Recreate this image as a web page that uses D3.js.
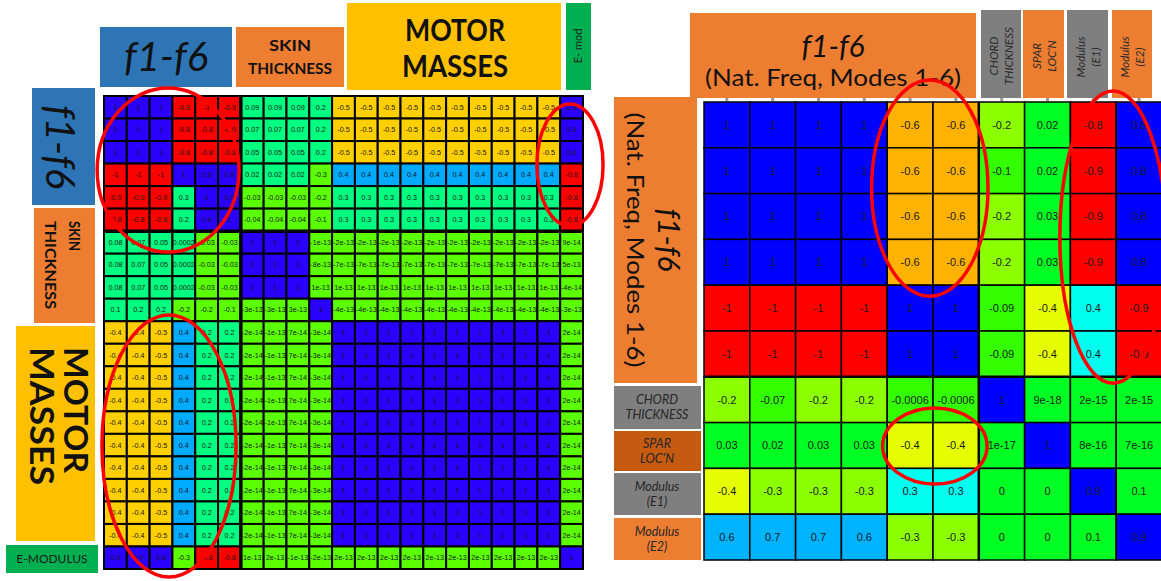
<!DOCTYPE html>
<html>
<head>
<meta charset="utf-8">
<script src="https://cdn.jsdelivr.net/npm/d3@7"></script>
<style>
  html, body { margin: 0; padding: 0; background: #ffffff; }
  svg { display: block; }
</style>
</head>
<body>
<svg id="chart" width="1161" height="581"></svg>
<script>
// ---------- Left matrix: correlation of f1-f6 with skin thickness, motor masses, E-modulus ----------
const leftParams = ["f1", "f2", "f3", "f4", "f5", "f6",
  "t1", "t2", "t3", "t4",
  "m1", "m2", "m3", "m4", "m5", "m6", "m7", "m8", "m9", "m10",
  "E"];

const leftValues = [
  [1, 1, 1, -0.8, -1, -0.9, 0.09, 0.09, 0.09, 0.2, -0.5, -0.5, -0.5, -0.5, -0.5, -0.5, -0.5, -0.5, -0.5, -0.5, 0.9],
  [1, 1, 1, -0.8, -0.8, -0.9, 0.07, 0.07, 0.07, 0.2, -0.5, -0.5, -0.5, -0.5, -0.5, -0.5, -0.5, -0.5, -0.5, -0.5, 0.9],
  [1, 1, 1, -0.8, -0.8, -0.8, 0.05, 0.05, 0.05, 0.2, -0.5, -0.5, -0.5, -0.5, -0.5, -0.5, -0.5, -0.5, -0.5, -0.5, 0.8],
  [-1, -1, -1, 1, 0.8, 0.8, 0.02, 0.02, 0.02, -0.3, 0.4, 0.4, 0.4, 0.4, 0.4, 0.4, 0.4, 0.4, 0.4, 0.4, -0.8],
  [-0.9, -0.9, -0.9, 0.3, 1, 0.9, -0.03, -0.03, -0.03, -0.2, 0.3, 0.3, 0.3, 0.3, 0.3, 0.3, 0.3, 0.3, 0.3, 0.3, -0.8],
  [-0.8, -0.8, -0.8, 0.2, 0.8, 1, -0.04, -0.04, -0.04, -0.1, 0.3, 0.3, 0.3, 0.3, 0.3, 0.3, 0.3, 0.3, 0.3, 0.3, -0.8],
  [0.08, 0.07, 0.05, 0.0002, -0.03, -0.03, 1, 1, 1, -1e-13, -2e-13, -2e-13, -2e-13, -2e-13, -2e-13, -2e-13, -2e-13, -2e-13, -2e-13, -2e-13, 9e-14],
  [0.08, 0.07, 0.05, 0.0002, -0.03, -0.03, 1, 1, 1, -8e-13, -7e-13, -7e-13, -7e-13, -7e-13, -7e-13, -7e-13, -7e-13, -7e-13, -7e-13, -7e-13, 5e-13],
  [0.08, 0.07, 0.05, 0.0002, -0.03, -0.03, 1, 1, 1, 1e-13, 1e-13, 1e-13, 1e-13, 1e-13, 1e-13, 1e-13, 1e-13, 1e-13, 1e-13, 1e-13, -4e-14],
  [0.1, 0.2, 0.2, -0.2, -0.2, -0.1, -3e-13, -3e-13, 3e-13, 1, -4e-13, -4e-13, -4e-13, -4e-13, -4e-13, -4e-13, -4e-13, -4e-13, -4e-13, -4e-13, -3e-13],
  [-0.4, -0.4, -0.5, 0.4, 0.2, 0.2, -2e-14, -1e-13, 7e-14, -3e-14, 1, 1, 1, 1, 1, 1, 1, 1, 1, 1, 2e-14],
  [-0.4, -0.4, -0.5, 0.4, 0.2, 0.2, -2e-14, -1e-13, 7e-14, -3e-14, 1, 1, 1, 1, 1, 1, 1, 1, 1, 1, 2e-14],
  [-0.4, -0.4, -0.5, 0.4, 0.2, 0.2, -2e-14, -1e-13, 7e-14, -3e-14, 1, 1, 1, 1, 1, 1, 1, 1, 1, 1, 2e-14],
  [-0.4, -0.4, -0.5, 0.4, 0.2, 0.2, -2e-14, -1e-13, 7e-14, -3e-14, 1, 1, 1, 1, 1, 1, 1, 1, 1, 1, 2e-14],
  [-0.4, -0.4, -0.5, 0.4, 0.2, 0.2, -2e-14, -1e-13, 7e-14, -3e-14, 1, 1, 1, 1, 1, 1, 1, 1, 1, 1, 2e-14],
  [-0.4, -0.4, -0.5, 0.4, 0.2, 0.2, -2e-14, -1e-13, 7e-14, -3e-14, 1, 1, 1, 1, 1, 1, 1, 1, 1, 1, 2e-14],
  [-0.4, -0.4, -0.5, 0.4, 0.2, 0.2, -2e-14, -1e-13, 7e-14, -3e-14, 1, 1, 1, 1, 1, 1, 1, 1, 1, 1, 2e-14],
  [-0.4, -0.4, -0.5, 0.4, 0.2, 0.2, -2e-14, -1e-13, 7e-14, -3e-14, 1, 1, 1, 1, 1, 1, 1, 1, 1, 1, 2e-14],
  [-0.4, -0.4, -0.5, 0.4, 0.2, 0.2, -2e-14, -1e-13, 7e-14, -3e-14, 1, 1, 1, 1, 1, 1, 1, 1, 1, 1, 2e-14],
  [-0.4, -0.4, -0.5, 0.4, 0.2, 0.2, -2e-14, -1e-13, 7e-14, -3e-14, 1, 1, 1, 1, 1, 1, 1, 1, 1, 1, 2e-14],
  [0.9, 0.9, 0.8, -0.3, -0.8, -0.8, 1e-13, 2e-13, -1e-13, -2e-13, 2e-13, 2e-13, 2e-13, 2e-13, 2e-13, 2e-13, 2e-13, 2e-13, 2e-13, 2e-13, 1]
];

// ---------- Right matrix: f1-f6 vs chord thickness, spar location, moduli ----------
const rightParams = ["f1", "f2", "f3", "f4", "f5", "f6", "chord", "spar", "E1", "E2"];

const rightValues = [
  [1, 1, 1, 1, -0.6, -0.6, -0.2, 0.02, -0.8, 0.8],
  [1, 1, 1, 1, -0.6, -0.6, -0.1, 0.02, -0.9, 0.8],
  [1, 1, 1, 1, -0.6, -0.6, -0.2, 0.03, -0.9, 0.8],
  [1, 1, 1, 1, -0.6, -0.6, -0.2, 0.03, -0.9, 0.8],
  [-1, -1, -1, -1, 1, 1, -0.09, -0.4, 0.4, -0.9],
  [-1, -1, -1, -1, 1, 1, -0.09, -0.4, 0.4, -0.9],
  [-0.2, -0.07, -0.2, -0.2, -0.0006, -0.0006, 1, 9e-18, 2e-15, 2e-15],
  [0.03, 0.02, 0.03, 0.03, -0.4, -0.4, 1e-17, 1, 8e-16, 7e-16],
  [-0.4, -0.3, -0.3, -0.3, 0.3, 0.3, 0, 0, 0.9, 0.1],
  [0.6, 0.7, 0.7, 0.6, -0.3, -0.3, 0, 0, 0.1, 0.9]
];

// Header texts ("|" starts a new line)
const leftColHeaders = ["f1-f6", "SKIN|THICKNESS", "MOTOR|MASSES", "E- mod"];
const leftRowHeaders = ["f1-f6", "SKIN|THICKNESS", "MOTOR|MASSES", "E-MODULUS"];
const freqTitle = "f1-f6";
const freqSubtitle = "(Nat. Freq, Modes 1-6)";
const rightColHeaders = ["CHORD|THICKNESS", "SPAR|LOC\u2019N", "Modulus|(E1)", "Modulus|(E2)"];
const rightRowHeaders = ["CHORD|THICKNESS", "SPAR|LOC\u2019N", "Modulus|(E1)", "Modulus|(E2)"];

// ---------- drawing ----------
const svg = d3.select("#chart");
const HEAD_FONT = "Lato, 'Open Sans', sans-serif";
const NUM_FONT = "'Liberation Sans', Arial, sans-serif";

const lx = d3.scaleBand().domain(d3.range(leftParams.length)).range([104, 583]);
const ly = d3.scaleBand().domain(d3.range(leftParams.length)).range([96, 569]);
const rx = d3.scaleBand().domain(d3.range(rightParams.length)).range([704, 1162]);
const ry = d3.scaleBand().domain(d3.range(rightParams.length)).range([102, 560]);

const leftColor = d3.scaleThreshold()
  .domain([-0.6, -0.35, 1e-6, 0.35, 0.6])
  .range(["#ff0000", "#ffd000", "#5cff00", "#00ff80", "#00aaff", "#2a00ff"]);

const rightColor = d3.scaleThreshold()
  .domain([-0.7, -0.5, -0.35, -0.15, 0, 0.15, 0.5, 0.75])
  .range(["#ff0000", "#ffb300", "#e6ff00", "#8cff00", "#33ff00", "#00ff22", "#00ffee", "#00b3ff", "#0000ff"]);

function drawMatrix(g, values, x, y, color, fmt, o) {
  const cells = values.flatMap((row, i) => row.map((v, j) => ({ i, j, v })));
  g.selectAll("rect.cell").data(cells).join("rect")
    .attr("class", "cell")
    .attr("x", d => x(d.j)).attr("y", d => y(d.i))
    .attr("width", x.bandwidth()).attr("height", y.bandwidth())
    .attr("fill", d => color(d.v))
    .attr("stroke", "#000").attr("stroke-width", o.grid);
  g.selectAll("text.val").data(cells).join("text")
    .attr("class", "val")
    .attr("x", d => x(d.j) + x.bandwidth() / 2)
    .attr("y", d => y(d.i) + y.bandwidth() / 2)
    .attr("dy", "0.35em")
    .attr("text-anchor", "middle")
    .attr("font-family", NUM_FONT)
    .attr("font-size", o.fontSize)
    .attr("fill", o.textColor)
    .text(d => fmt(d.v));
  // heavier rules separating the f1-f6 block
  const bx = x(o.split), by = y(o.split);
  const [x0, x1] = x.range(), [y0, y1] = y.range();
  g.append("line").attr("x1", bx).attr("x2", bx).attr("y1", y0).attr("y2", y1)
    .attr("stroke", "#000").attr("stroke-width", o.heavy);
  g.append("line").attr("x1", x0).attr("x2", x1).attr("y1", by).attr("y2", by)
    .attr("stroke", "#000").attr("stroke-width", o.heavy);
}

const gLeft = svg.append("g");
drawMatrix(gLeft, leftValues, lx, ly, leftColor, v => String(v),
  { grid: 2, heavy: 3.5, fontSize: 7.2, textColor: "#151515", split: 6 });

const gRight = svg.append("g");
drawMatrix(gRight, rightValues, rx, ry, rightColor, v => String(v),
  { grid: 1.5, heavy: 2.5, fontSize: 11, textColor: "#1a1a1a", split: 6 });

// small tick marks peeking above the right matrix
svg.append("g")
  .attr("transform", `translate(0,${ry.range()[0] - 1})`)
  .call(d3.axisTop(rx).tickSize(4).tickFormat(""))
  .call(g => g.select(".domain").remove())
  .call(g => g.selectAll(".tick line").attr("stroke", "#9a9a9a").attr("stroke-width", 3));

// ---------- header boxes ----------
const gHead = svg.append("g");
function box(x, y, w, h, fill) {
  gHead.append("rect").attr("x", x).attr("y", y).attr("width", w).attr("height", h).attr("fill", fill);
}
// multi-line label; rot = 0 | 90 | -90
function label(text, cx, cy, o) {
  const lines = text.split("|");
  const g = gHead.append("g").attr("transform", `translate(${cx},${cy}) rotate(${o.rot || 0})`);
  const n = lines.length;
  lines.forEach((ln, k) => {
    const t = g.append("text")
      .attr("x", 0)
      .attr("y", (k - (n - 1) / 2) * (o.lh || 0))
      .attr("dy", "0.35em")
      .attr("text-anchor", o.anchor || "middle")
      .attr("font-family", HEAD_FONT)
      .attr("font-size", o.size)
      .attr("font-weight", o.weight || 400)
      .attr("font-style", o.italic ? "italic" : "normal")
      .attr("fill", o.color || "#111")
      .text(ln);
    if (o.lengths && o.lengths[k]) {
      t.attr("textLength", o.lengths[k]).attr("lengthAdjust", "spacingAndGlyphs");
    }
  });
}

const BLUE = "#2e75b6", ORANGE = "#ed7d31", GOLD = "#ffc000", GREEN = "#00b050",
      GRAY = "#7f7f7f", DKORANGE = "#c55a11";

// left column headers
box(100, 27, 132, 60, BLUE);
label(leftColHeaders[0], 166, 57, { size: 40, italic: true });
box(236, 27, 108, 60, ORANGE);
label(leftColHeaders[1], 290, 57, { size: 15, weight: 700, lh: 23, lengths: [42, 84] });
box(347, 3, 214, 87, GOLD);
label(leftColHeaders[2], 455, 48, { size: 31, weight: 700, lh: 36, lengths: [100, 106] });
box(566, 3, 25, 87, GREEN);
label(leftColHeaders[3], 578, 46, { size: 11, rot: -90, color: "#1f1f1f" });

// left row headers
box(32, 88, 63, 117, BLUE);
label(leftRowHeaders[0], 60, 147, { size: 40, italic: true, rot: 90 });
box(34, 208, 61, 115, ORANGE);
label(leftRowHeaders[1], 62, 221, { size: 15, weight: 700, rot: 90, lh: 24, anchor: "start", lengths: [30, 88] });
box(16, 326, 79, 215, GOLD);
label(leftRowHeaders[2], 59, 347, { size: 33, weight: 700, rot: 90, lh: 34, anchor: "start", lengths: [126, 138] });
box(6, 545, 92, 28, GREEN);
label(leftRowHeaders[3], 52, 559, { size: 12, color: "#1a1a1a" });

// right column headers
box(690, 13, 286, 85, ORANGE);
label(freqTitle, 833, 46, { size: 30, italic: true });
label(freqSubtitle, 833, 78, { size: 24, lengths: [256] });
box(981, 10, 40, 88, GRAY);
label(rightColHeaders[0], 1001, 56, { size: 11.5, italic: true, rot: -90, lh: 15, color: "#2b2b2b" });
box(1023, 10, 41, 88, ORANGE);
label(rightColHeaders[1], 1044, 56, { size: 11.5, italic: true, rot: -90, lh: 15, color: "#2b2b2b" });
box(1067, 10, 41, 88, GRAY);
label(rightColHeaders[2], 1088, 57, { size: 11.5, italic: true, rot: -90, lh: 15, color: "#2b2b2b" });
box(1112, 10, 40, 88, ORANGE);
label(rightColHeaders[3], 1132, 57, { size: 11.5, italic: true, rot: -90, lh: 15, color: "#2b2b2b" });

// right row headers
box(614, 97, 83, 286, ORANGE);
label(freqTitle, 668, 240, { size: 30, italic: true, rot: 90 });
label(freqSubtitle, 635, 240, { size: 24, rot: 90, lengths: [255] });
box(614, 386, 87, 43, GRAY);
label(rightRowHeaders[0], 657, 407, { size: 12.5, italic: true, lh: 15, color: "#262626" });
box(614, 431, 87, 40, DKORANGE);
label(rightRowHeaders[1], 657, 451, { size: 12.5, italic: true, lh: 15, color: "#262626" });
box(614, 473, 87, 42, GRAY);
label(rightRowHeaders[2], 657, 494, { size: 12.5, italic: true, lh: 15, color: "#262626" });
box(614, 518, 87, 42, ORANGE);
label(rightRowHeaders[3], 657, 539, { size: 12.5, italic: true, lh: 15, color: "#262626" });

// ---------- red annotation ellipses (in cell units of each matrix) ----------
const leftRings = [
  { cx: 2.81, cy: 3.29, rx: 3.11, ry: 3.64 },
  { cx: 20.43, cy: 3.06, rx: 1.45, ry: 2.71 },
  { cx: 2.85, cy: 15.54, rx: 2.94, ry: 5.82 }
];
const rightRings = [
  { cx: 4.93, cy: 1.88, rx: 1.27, ry: 2.36 },
  { cx: 8.93, cy: 2.95, rx: 1.16, ry: 3.19 },
  { cx: 5.04, cy: 7.51, rx: 1.14, ry: 0.83 }
];
function rings(list, x, y) {
  svg.append("g").selectAll("ellipse").data(list).join("ellipse")
    .attr("cx", d => x.range()[0] + d.cx * x.bandwidth())
    .attr("cy", d => y.range()[0] + d.cy * y.bandwidth())
    .attr("rx", d => d.rx * x.bandwidth())
    .attr("ry", d => d.ry * y.bandwidth())
    .attr("fill", "none").attr("stroke", "#ff0000").attr("stroke-width", 3.5);
}
rings(leftRings, lx, ly);
rings(rightRings, rx, ry);
</script>
</body>
</html>
